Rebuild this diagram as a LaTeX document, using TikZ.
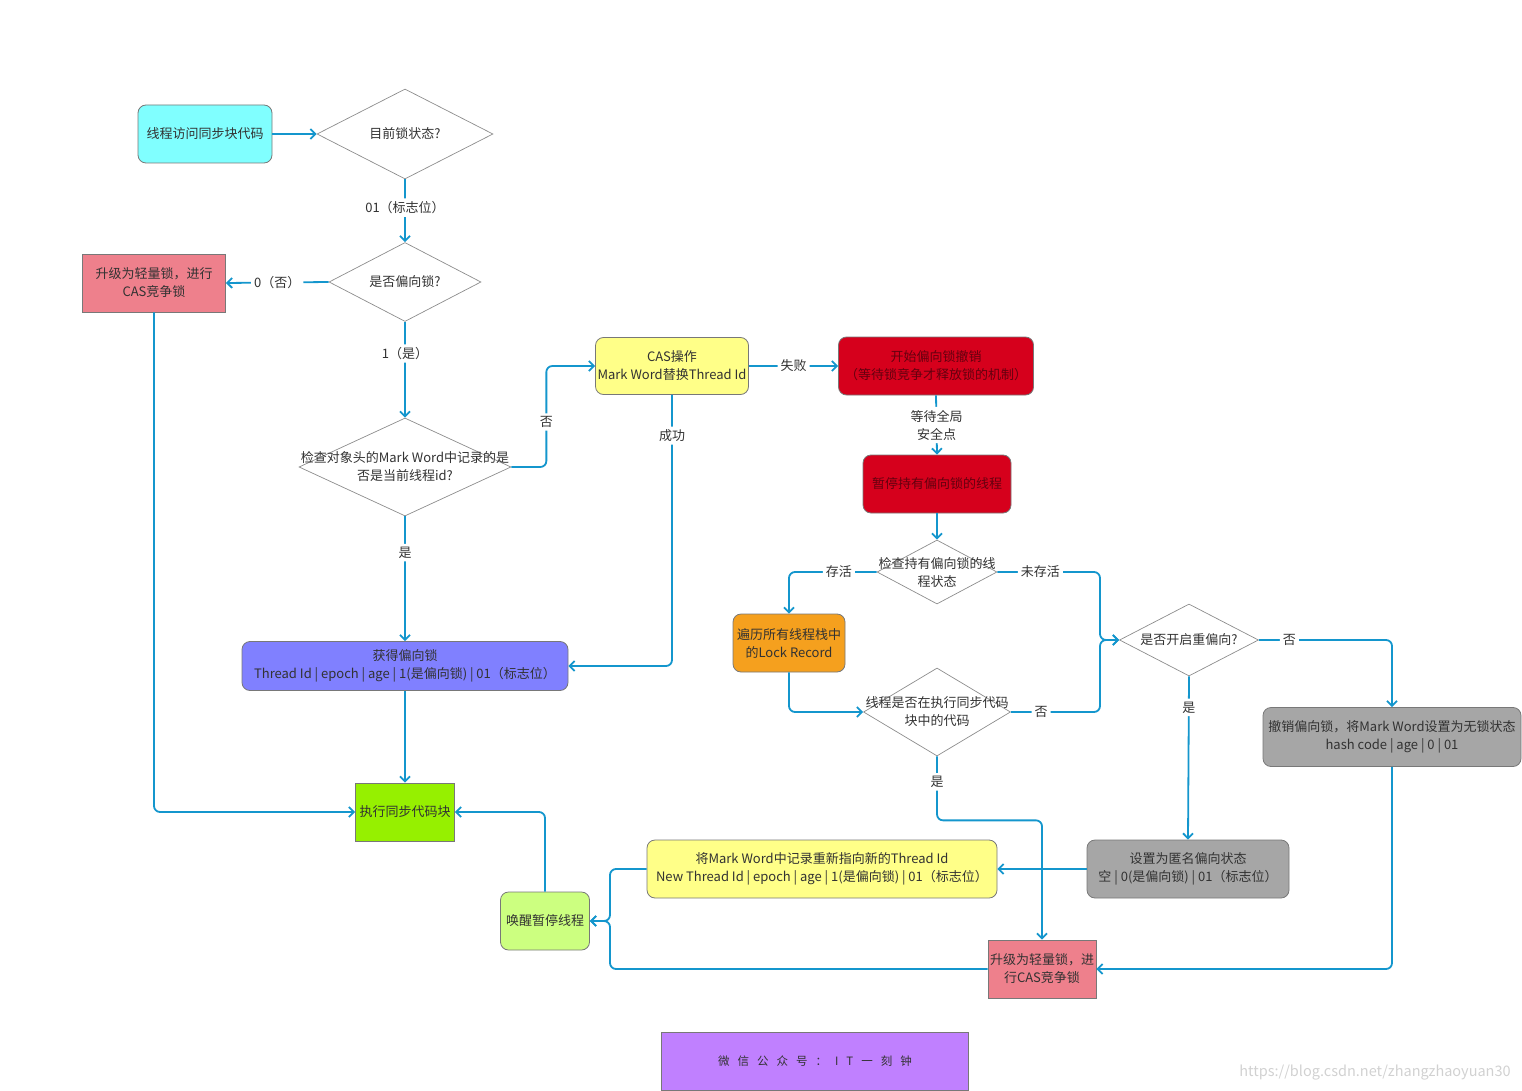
\documentclass[tikz,border=0pt]{standalone}
\usepackage{fontspec}
\setmainfont{Noto Sans CJK SC}
\usetikzlibrary{shapes.geometric, arrows.meta, positioning}

\definecolor{flowblue}{RGB}{20,150,205}
\definecolor{boxline}{RGB}{120,120,120}
\definecolor{dialine}{RGB}{140,140,140}
\definecolor{txt}{RGB}{50,50,50}
\definecolor{redtxt}{RGB}{100,0,15}
\definecolor{cyanbox}{RGB}{128,255,255}
\definecolor{pinkbox}{RGB}{238,128,140}
\definecolor{redbox}{RGB}{214,0,28}
\definecolor{yellowbox}{RGB}{255,255,136}
\definecolor{bluebox}{RGB}{128,128,255}
\definecolor{orangebox}{RGB}{245,160,30}
\definecolor{graybox}{RGB}{166,166,166}
\definecolor{lgreenbox}{RGB}{204,255,128}
\definecolor{greenbox}{RGB}{150,240,0}
\definecolor{footbox}{RGB}{192,128,255}

\newcommand{\gapx}{\hspace{8pt}}

\tikzset{
  box/.style={draw=boxline, line width=0.8pt, rounded corners=8pt, align=center, text=txt, inner sep=2pt},
  sqbox/.style={box, rounded corners=0pt},
  decision/.style={diamond, draw=dialine, line width=0.7pt, inner sep=0pt},
  dtext/.style={align=center, text=txt},
  flow/.style={draw=flowblue, line width=1.8pt, rounded corners=6pt, -{Straight Barb[length=5pt,width=10pt]}},
  elabel/.style={fill=white, text=txt, inner sep=3pt, align=center},
}

\begin{document}
\begin{tikzpicture}[x=1pt, y=-1pt, font=\fontsize{13}{18}\selectfont]
\useasboundingbox (0,0) rectangle (1522,1091);

% Entry and lock state
\node[box, fill=cyanbox, minimum width=134pt, minimum height=58pt] (start) at (205,134) {线程访问同步块代码};
\node[decision, minimum width=176pt, minimum height=90pt, label={[dtext]center:{目前锁状态?}}] (state) at (405,134) {};
\node[decision, minimum width=152pt, minimum height=79pt, label={[dtext]center:{是否偏向锁?}}] (biased) at (405,282) {};
\node[sqbox, fill=pinkbox, minimum width=143pt, minimum height=58pt] (up1) at (154,283) {升级为轻量锁，进行\\CAS竞争锁};
\node[decision, minimum width=212pt, minimum height=98pt, label={[dtext]center:{检查对象头的Mark Word中记录的是\\否是当前线程id?}}] (owner) at (405,467) {};
\node[box, fill=yellowbox, minimum width=152pt, minimum height=57pt] (cas) at (672,366) {CAS操作\\Mark Word替换Thread Id};
\node[box, fill=bluebox, minimum width=326pt, minimum height=49pt] (gain) at (405,666) {获得偏向锁\\Thread Id | epoch | age | 1(是偏向锁) | 01（标志位）};
\node[sqbox, fill=greenbox, minimum width=99pt, minimum height=58pt] (exec) at (405,812) {执行同步代码块};

% Revocation
\node[box, fill=redbox, text=redtxt, minimum width=195pt, minimum height=58pt] (revoke) at (936,366) {开始偏向锁撤销\\（等待锁竞争才释放锁的机制）};
\node[box, fill=redbox, text=redtxt, minimum width=148pt, minimum height=58pt] (pause) at (937,484) {暂停持有偏向锁的线程};
\node[decision, minimum width=120pt, minimum height=64pt, label={[dtext]center:{检查持有偏向锁的线\\程状态}}] (alive) at (937,572) {};
\node[box, fill=orangebox, minimum width=112pt, minimum height=58pt] (scan) at (789,643) {遍历所有线程栈中\\的Lock Record};
\node[decision, minimum width=147pt, minimum height=88pt, label={[dtext]center:{线程是否在执行同步代码\\块中的代码}}] (insync) at (937,712) {};
\node[decision, minimum width=139pt, minimum height=72pt, label={[dtext]center:{是否开启重偏向?}}] (rebias) at (1189,640) {};
\node[box, fill=graybox, minimum width=258pt, minimum height=59pt] (undo) at (1392,737) {撤销偏向锁，将Mark Word设置为无锁状态\\hash code | age | 0 | 01};
\node[box, fill=graybox, minimum width=202pt, minimum height=58pt] (anon) at (1188,869) {设置为匿名偏向状态\\空 | 0(是偏向锁) | 01（标志位）};
\node[box, fill=yellowbox, minimum width=350pt, minimum height=58pt] (newtid) at (822,869) {将Mark Word中记录重新指向新的Thread Id\\New Thread Id | epoch | age | 1(是偏向锁) | 01（标志位）};
\node[sqbox, fill=pinkbox, minimum width=108pt, minimum height=58pt] (up2) at (1042,969) {升级为轻量锁，进\\行CAS竞争锁};
\node[box, fill=lgreenbox, minimum width=89pt, minimum height=58pt] (wake) at (545,921) {唤醒暂停线程};

% Footer
\node[sqbox, fill=footbox, minimum width=307pt, minimum height=58pt, font=\fontsize{11.5}{14}\selectfont] (foot) at (815,1061) {微\gapx 信\gapx 公\gapx 众\gapx 号\gapx ：\gapx I\gapx T\gapx 一\gapx 刻\gapx 钟};
\node[text=black!18, font=\fontsize{14.5}{16}\selectfont] (mark) at (1375,1073) {https://blog.csdn.net/zhangzhaoyuan30};

% Main path
\draw[flow] (start) -- (state);
\draw[flow] (state.south) -- node[elabel, pos=0.45]{01（标志位）} (biased.north);
\draw[flow] (biased.west) -- node[elabel]{0（否）} (up1.east);
\draw[flow] (biased.south) -- node[elabel, pos=0.33]{1（是）} (owner.north);
\draw[flow] (owner.east) -- ++(35,0) |- node[elabel, pos=0.223]{否} (cas.west);
\draw[flow] (cas.east) -- node[elabel]{失败} (revoke.west);
\draw[flow] (cas.south) |- node[elabel, pos=0.075]{成功} (gain.east);
\draw[flow] (owner.south) -- node[elabel, pos=0.29]{是} (gain.north);
\draw[flow] (gain.south) -- (exec.north);
\draw[flow] (up1.south) |- (exec.west);

% Revocation path
\draw[flow] (revoke.south) -- node[elabel]{等待全局\\安全点} (pause.north);
\draw[flow] (pause.south) -- (alive.north);
\draw[flow] (alive.west) -| node[elabel, pos=0.215]{存活} (scan.north);
\draw[flow] (scan.south) |- (insync.west);
\coordinate (merge) at (1100,640);
\draw[flow] (alive.east) -| node[elabel, pos=0.21]{未存活} (merge) -- (rebias.west);
\draw[flow] (insync.east) -| node[elabel, pos=0.17]{否} (merge) -- (rebias.west);
\draw[flow] (rebias.east) -| node[elabel, pos=0.115]{否} (undo.north);
\draw[flow] (rebias.south) -- node[elabel, pos=0.19]{是} (anon.north);
\draw[flow] (anon.west) -- (newtid.east);
\draw[flow] (insync.south) -- node[elabel, pos=0.4]{是} ++(0,64) -| (up2.north);
\draw[flow] (undo.south) |- (up2.east);
\coordinate (join) at (610,921);
\draw[flow] (newtid.west) -| (join) -- (wake.east);
\draw[flow] (up2.west) -| (join) -- (wake.east);
\draw[flow] (wake.north) |- (exec.east);
\end{tikzpicture}
\end{document}
